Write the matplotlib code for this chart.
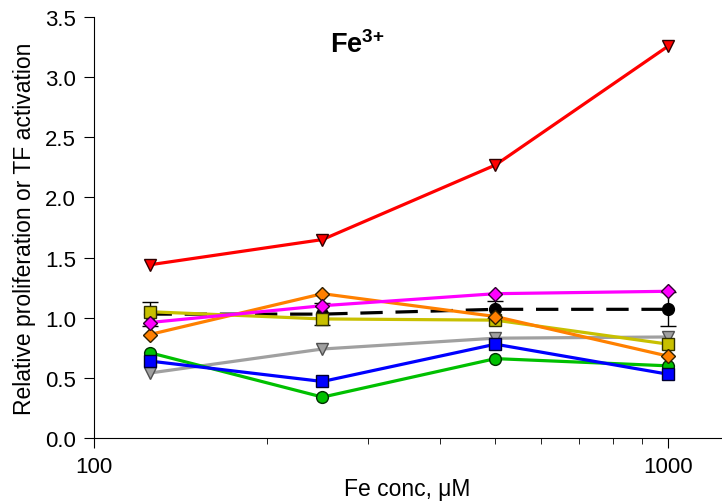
import matplotlib.pyplot as plt
from matplotlib.ticker import FixedLocator, NullFormatter

plt.rcParams['font.family'] = ['Liberation Sans', 'DejaVu Sans']
plt.rcParams['mathtext.fontset'] = 'custom'
plt.rcParams['mathtext.rm'] = 'Liberation Sans'
plt.rcParams['mathtext.bf'] = 'Liberation Sans:bold'

conc = [125, 250, 500, 1000]

control = [1.03, 1.03, 1.07, 1.07]
control_err = [0.10, 0.09, 0.07, 0.14]
grey = [0.54, 0.74, 0.83, 0.84]
yellow = [1.05, 0.99, 0.98, 0.78]
green = [0.71, 0.34, 0.66, 0.60]
blue = [0.64, 0.47, 0.78, 0.53]
orange = [0.86, 1.20, 1.01, 0.68]
magenta = [0.96, 1.10, 1.20, 1.22]
red = [1.44, 1.65, 2.27, 3.26]

fig = plt.figure(figsize=(7.22, 5.02), dpi=100)
ax = fig.add_axes([0.130, 0.1255, 0.869, 0.8385])

lw = 2.3
ms = 8.5
ax.errorbar(conc, control, yerr=control_err, color='black', lw=lw, ecolor='black',
            elinewidth=1, capsize=6, capthick=1, marker='o', ms=ms, mec='black',
            mew=1, dashes=[7, 4], zorder=2)
ax.plot(conc, grey, color='#a0a0a0', lw=lw, marker='v', ms=ms, mec='#505050', mew=1, zorder=3)
ax.plot(conc, yellow, color='#c8c000', lw=lw, marker='s', ms=ms, mec='#303000', mew=1, zorder=4)
ax.plot(conc, green, color='#00c000', lw=lw, marker='o', ms=ms, mec='#003000', mew=1, zorder=5)
ax.plot(conc, blue, color='#0000ff', lw=lw, marker='s', ms=ms, mec='#000030', mew=1, zorder=6)
ax.plot(conc, orange, color='#ff8000', lw=lw, marker='D', ms=ms - 1, mec='#302000', mew=1, zorder=7)
ax.plot(conc, magenta, color='#ff00ff', lw=lw, marker='D', ms=ms - 1, mec='#300030', mew=1, zorder=8)
ax.plot(conc, red, color='#ff0000', lw=lw, marker='v', ms=ms, mec='#300000', mew=1, zorder=9)

ax.set_xscale('log')
ax.set_xlim(100, 1236)
ax.set_ylim(0, 3.5)
ax.xaxis.set_major_locator(FixedLocator([100, 1000]))
ax.xaxis.set_minor_locator(FixedLocator([200, 300, 400, 500, 600, 700, 800, 900]))
ax.xaxis.set_minor_formatter(NullFormatter())
ax.set_xticklabels(['100', '1000'])
ax.set_yticks([0, 0.5, 1.0, 1.5, 2.0, 2.5, 3.0, 3.5])
ax.set_yticklabels(['0.0', '0.5', '1.0', '1.5', '2.0', '2.5', '3.0', '3.5'])

for s in ['top', 'right']:
    ax.spines[s].set_visible(False)
ax.tick_params(axis='both', which='major', direction='out', length=7, labelsize=16, pad=6)
ax.tick_params(axis='x', which='minor', direction='out', length=4)

ax.set_xlabel('Fe conc, μM', fontsize=16.5, labelpad=0)
ax.set_ylabel('Relative proliferation or TF activation', fontsize=16.5, labelpad=6)
ax.text(0.42, 0.936, r'$\mathbf{Fe}^{\mathbf{3{+}}}$', transform=ax.transAxes, fontsize=19.5,
        ha='center', va='center')

fig.savefig('out.png', dpi=100)
